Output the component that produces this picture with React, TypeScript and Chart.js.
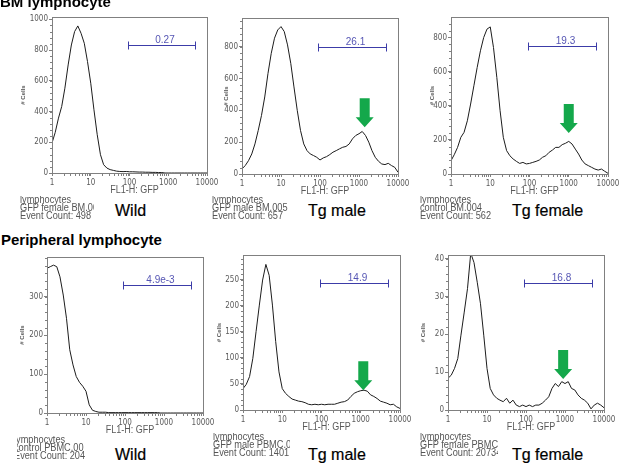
import React, { useEffect, useRef } from "react";
import { Chart, registerables } from "chart.js";

Chart.register(...registerables);

// FL1 channel positions shared by every histogram (12 steps per decade, 1 .. 10^4)
const fl1Channels = [
  1, 1.21, 1.47, 1.78, 2.15, 2.61, 3.16, 3.83, 4.64, 5.62, 6.81, 8.25,
  10, 12.1, 14.7, 17.8, 21.5, 26.1, 31.6, 38.3, 46.4, 56.2, 68.1, 82.5,
  100, 121, 147, 178, 215, 261, 316, 383, 464, 562, 681, 825,
  1000, 1210, 1470, 1780, 2150, 2610, 3160, 3830, 4640, 5620, 6810, 8250, 10000,
];
const fl1Decades = [1, 10, 100, 1000, 10000];
const fl1MinorSteps = [2, 3, 4, 5, 6, 7, 8, 9];

// # Cells per channel
const bmWildCounts = [
  195, 264, 357, 433, 552, 703, 833, 920, 957, 909,
  844, 725, 584, 411, 249, 119, 54, 32, 22, 17,
  12, 10, 9, 10, 8, 8, 7, 6, 6, 5,
  5, 4, 4, 3, 3, 0, 0, 0, 0, 0,
  0, 0, 0, 0, 0, 0, 0, 0, 0,
];
const bmTgMaleCounts = [
  32, 53, 84, 126, 189, 274, 368, 484, 632, 758,
  853, 905, 926, 895, 811, 695, 547, 400, 274, 189,
  147, 126, 116, 105, 88, 101, 109, 122, 137, 147,
  158, 168, 173, 189, 221, 242, 253, 267, 242, 200,
  147, 105, 80, 63, 59, 67, 53, 42, 11,
];
const bmTgFemaleCounts = [
  78, 113, 156, 215, 244, 312, 410, 517, 624, 722,
  800, 849, 862, 741, 566, 371, 215, 137, 107, 88,
  74, 62, 68, 59, 62, 68, 74, 82, 98, 107,
  127, 140, 156, 156, 172, 180, 191, 176, 146, 117,
  82, 59, 49, 39, 29, 23, 29, 16, 4,
];
const pbWildCounts = [
  373, 377, 381, 377, 351, 304, 244, 163, 124, 94,
  79, 69, 56, 21, 7, 4, 2, 2, 2, 1,
  1, 1, 1, 1, 1, 1, 1, 1, 1, 1,
  1, 1, 1, 1, 1, 0, 0, 0, 0, 0,
  0, 0, 0, 0, 0, 0, 0, 0, 0,
];
const pbTgMaleCounts = [
  41, 49, 64, 99, 150, 201, 249, 279, 258, 201,
  131, 73, 41, 32, 26, 21, 19, 17, 16, 14,
  11, 10, 11, 10, 11, 10, 11, 11, 11, 13,
  15, 16, 19, 26, 32, 35, 37, 38, 36, 29,
  26, 22, 17, 15, 13, 10, 11, 6, 3,
];
const pbTgFemaleCounts = [
  8.4, 9.2, 11, 13.6, 19.8, 25.9, 32.1, 41.5, 39, 33.8,
  28.1, 19.8, 11, 5.7, 4, 3.1, 2.6, 2.2, 3.1, 1.8,
  2.6, 1.3, 0.9, 1.3, 0.9, 1.3, 0.9, 1.3, 1.3, 1.8,
  2.6, 3.5, 5.7, 7, 6.2, 7.5, 7, 7.5, 5.7, 5.3,
  4, 3.1, 2.6, 1.8, 0.3, 1.3, 1.8, 1.3, 0.6,
];

// events piled up in the first channel (null = none)
const firstChannelPileUps = [950, 253, 595, null, null, 32.5];

// y-axis ranges and labelled ticks
const yAxisMax = [1015, 980, 920, 402, 297, 41];
const yTicksBmWild = [0, 200, 400, 600, 800, 1000];
const yTicksBmTg = [0, 200, 400, 600, 800];
const yTicksPbWild = [0, 100, 200, 300];
const yTicksPbMale = [0, 50, 100, 150, 200, 250];
const yTicksPbFemale = [0, 10, 20, 30, 40];
const yMajorTicks = [yTicksBmWild, yTicksBmTg, yTicksBmTg, yTicksPbWild, yTicksPbMale, yTicksPbFemale];
const yMinorStep = [40, 40, 40, 20, 10, 2];

// M1 marker gate (FL1 range) and the % positive it reports
const gateRange = [90, 5000];
const gatePercents = ["0.27", "26.1", "19.3", "4.9e-3", "14.9", "16.8"];
const gateLevel = [835, 800, 751, 330, 244, 33.7];

// GFP+ peak arrows: FL1 value and # Cells at the arrow tip
const peakArrows = [null, { x: 1400, y: 294 }, { x: 1000, y: 240 }, null, { x: 1160, y: 38 }, { x: 897, y: 8.2 }];

const rowTitles = ["BM lymphocyte", "Peripheral lymphocyte"];
const groupNames = ["Wild", "Tg male", "Tg female", "Wild", "Tg male", "Tg female"];
const fileNotes = [
  ["lymphocytes", "GFP female BM.00", "Event Count: 498"],
  ["lymphocytes", "GFP male BM.005", "Event Count: 657"],
  ["lymphocytes", "control BM.004", "Event Count: 562"],
  ["lymphocytes", "control PBMC.00", "Event Count: 204"],
  ["lymphocytes", "GFP male PBMC.00", "Event Count: 1401"],
  ["lymphocytes", "GFP female PBMC.0", "Event Count: 20734"],
];
const xAxisTitle = "FL1-H: GFP";
const yAxisTitle = "# Cells";

const countSeries = [bmWildCounts, bmTgMaleCounts, bmTgFemaleCounts, pbWildCounts, pbTgMaleCounts, pbTgFemaleCounts];

// ---- layout -------------------------------------------------------------
const AXIS_W = 40;
const AXIS_H = 24;
const PAD_TOP = 8;
const PAD_RIGHT = 14;

const plotBoxes = [
  { left: 52, top: 17, width: 155, height: 156, yTitleGap: 29 },
  { left: 242, top: 18, width: 156, height: 156, yTitleGap: 16 },
  { left: 451, top: 17, width: 157, height: 157, yTitleGap: 19 },
  { left: 47, top: 257, width: 156, height: 156, yTitleGap: 25 },
  { left: 243, top: 255, width: 157, height: 155, yTitleGap: 24 },
  { left: 448, top: 255, width: 156, height: 155, yTitleGap: 25 },
];
const notePlaces = [
  { left: 20, top: 196, clip: 74, clipLeft: 0 },
  { left: 212, top: 196, clip: 76, clipLeft: 0 },
  { left: 420, top: 196, clip: 76, clipLeft: 0 },
  { left: 14, top: 436, clip: 73, clipLeft: 2.5 },
  { left: 213, top: 433, clip: 77, clipLeft: 0 },
  { left: 420, top: 433, clip: 78, clipLeft: 0 },
];
const namePlaces = [
  { left: 115, top: 203 }, { left: 308, top: 203 }, { left: 512, top: 203 },
  { left: 115, top: 447 }, { left: 308, top: 447 }, { left: 512, top: 447 },
];

const SANS = "'Liberation Sans', Arial, Helvetica, sans-serif";
const NARROW = "'Liberation Sans Narrow', 'DejaVu Sans Condensed', 'Liberation Sans', sans-serif";
const CURVE = "#1c1c1c";
const FRAME = "#808080";
const TICK_TEXT = "#5a5a5a";
const GATE_BLUE = "#3c3ca8";
const GATE_TEXT = "#5656b4";
const ARROW_GREEN = "#14a84b";

// frame, minor ticks, M1 gate, arrow and axis titles
const histogramDecor = {
  id: "histogramDecor",
  afterDatasetsDraw(chart: any, _args: any, opts: any) {
    const { ctx, chartArea: a } = chart;
    const xs = chart.scales.x;
    const ys = chart.scales.y;
    ctx.save();

    ctx.strokeStyle = FRAME;
    ctx.lineWidth = 1;
    ctx.strokeRect(a.left + 0.5, a.top + 0.5, a.right - a.left, a.bottom - a.top);

    // minor ticks on both axes
    ctx.beginPath();
    fl1Decades.slice(0, -1).forEach((d) => {
      fl1MinorSteps.forEach((m) => {
        const px = Math.round(xs.getPixelForValue(d * m)) + 0.5;
        ctx.moveTo(px, a.bottom + 1);
        ctx.lineTo(px, a.bottom + 3);
      });
    });
    for (let v = opts.yMinor; v < opts.yMax; v += opts.yMinor) {
      const py = Math.round(ys.getPixelForValue(v)) + 0.5;
      ctx.moveTo(a.left, py);
      ctx.lineTo(a.left - 2, py);
    }
    ctx.stroke();

    // gate bar with end caps
    const g0 = Math.round(xs.getPixelForValue(opts.gateFrom)) + 0.5;
    const g1 = Math.round(xs.getPixelForValue(opts.gateTo)) + 0.5;
    const gy = Math.round(ys.getPixelForValue(opts.gateLevel)) + 0.5;
    ctx.strokeStyle = GATE_BLUE;
    ctx.beginPath();
    ctx.moveTo(g0, gy); ctx.lineTo(g1, gy);
    ctx.moveTo(g0, gy - 4); ctx.lineTo(g0, gy + 4);
    ctx.moveTo(g1, gy - 4); ctx.lineTo(g1, gy + 4);
    ctx.stroke();
    ctx.fillStyle = GATE_TEXT;
    ctx.font = `10px ${SANS}`;
    ctx.textAlign = "center";
    ctx.textBaseline = "alphabetic";
    ctx.fillText(opts.gateText, (g0 + g1) / 2 + 3, gy - 3);

    // arrow pointing at the GFP+ peak
    if (opts.arrow) {
      const ax = xs.getPixelForValue(opts.arrow.x);
      const tip = ys.getPixelForValue(opts.arrow.y);
      ctx.fillStyle = ARROW_GREEN;
      ctx.beginPath();
      ctx.moveTo(ax - 5, tip - 29);
      ctx.lineTo(ax + 5, tip - 29);
      ctx.lineTo(ax + 5, tip - 10);
      ctx.lineTo(ax + 9, tip - 10);
      ctx.lineTo(ax, tip);
      ctx.lineTo(ax - 9, tip - 10);
      ctx.lineTo(ax - 5, tip - 10);
      ctx.closePath();
      ctx.fill();
    }

    // axis titles
    ctx.fillStyle = TICK_TEXT;
    ctx.textBaseline = "middle";
    ctx.save();
    ctx.translate((a.left + a.right) / 2 + 5, a.bottom + 17);
    ctx.scale(0.9, 1);
    ctx.font = `10px ${SANS}`;
    ctx.fillText(opts.xTitle, 0, 0);
    ctx.restore();

    ctx.save();
    ctx.translate(a.left - opts.yTitleGap, (a.top + a.bottom) / 2);
    ctx.rotate(-Math.PI / 2);
    ctx.font = `bold 6px ${SANS}`;
    ctx.fillText(opts.yTitle, 0, 0);
    ctx.restore();

    ctx.restore();
  },
};

function HistogramPanel({ index }: { index: number }) {
  const ref = useRef<HTMLCanvasElement>(null);
  const box = plotBoxes[index];
  const width = box.width + AXIS_W + PAD_RIGHT;
  const height = box.height + PAD_TOP + AXIS_H;

  useEffect(() => {
    const counts = countSeries[index];
    const points: { x: number; y: number }[] = [];
    const pile = firstChannelPileUps[index];
    if (pile !== null) points.push({ x: fl1Channels[0], y: pile });
    fl1Channels.forEach((x, i) => points.push({ x, y: counts[i] }));

    const tickFont = { family: NARROW, size: 8 };
    const chart = new Chart(ref.current!, {
      type: "line",
      data: {
        datasets: [
          {
            data: points,
            borderColor: CURVE,
            borderWidth: 1,
            pointRadius: 0,
            tension: 0,
            fill: false,
          },
        ],
      },
      options: {
        animation: false,
        responsive: false,
        events: [],
        layout: { padding: { top: PAD_TOP, right: PAD_RIGHT, left: 0, bottom: 0 } },
        plugins: {
          legend: { display: false },
          tooltip: { enabled: false },
          histogramDecor: {
            gateFrom: gateRange[0],
            gateTo: gateRange[1],
            gateLevel: gateLevel[index],
            gateText: gatePercents[index],
            arrow: peakArrows[index],
            xTitle: xAxisTitle,
            yTitle: yAxisTitle,
            yTitleGap: box.yTitleGap,
            yMinor: yMinorStep[index],
            yMax: yAxisMax[index],
          },
        } as any,
        scales: {
          x: {
            type: "logarithmic",
            min: 1,
            max: 10000,
            afterBuildTicks: (s: any) => {
              s.ticks = fl1Decades.map((v) => ({ value: v }));
            },
            afterFit: (s: any) => { s.height = AXIS_H; },
            border: { display: false },
            grid: { drawOnChartArea: false, drawTicks: true, tickLength: 3, color: FRAME },
            ticks: {
              autoSkip: false,
              maxRotation: 0,
              minRotation: 0,
              padding: 2,
              color: TICK_TEXT,
              font: tickFont,
              callback: (v: any) => String(v),
            },
          },
          y: {
            type: "linear",
            min: 0,
            max: yAxisMax[index],
            afterBuildTicks: (s: any) => {
              s.ticks = yMajorTicks[index].map((v) => ({ value: v }));
            },
            afterFit: (s: any) => { s.width = AXIS_W; },
            border: { display: false },
            grid: { drawOnChartArea: false, drawTicks: true, tickLength: 3, color: FRAME },
            ticks: {
              autoSkip: false,
              padding: 1,
              color: TICK_TEXT,
              font: tickFont,
              callback: (v: any) => String(v),
            },
          },
        },
      } as any,
      plugins: [histogramDecor],
    });
    return () => chart.destroy();
  }, [index]);

  return (
    <canvas
      ref={ref}
      width={width}
      height={height}
      style={{ position: "absolute", left: box.left - AXIS_W, top: box.top - PAD_TOP, width, height }}
    />
  );
}

export default function App() {
  return (
    <div
      style={{
        position: "fixed",
        left: 0,
        top: 0,
        width: 620,
        height: 469,
        background: "#ffffff",
        overflow: "hidden",
        fontFamily: SANS,
      }}
    >
      {plotBoxes.map((_, i) => (
        <HistogramPanel key={i} index={i} />
      ))}

      <div style={{ position: "absolute", left: 0, top: -6, fontSize: 15, lineHeight: "15px", fontWeight: "bold", whiteSpace: "nowrap" }}>
        {rowTitles[0]}
      </div>
      <div style={{ position: "absolute", left: 1, top: 232, fontSize: 15, lineHeight: "15px", fontWeight: "bold", whiteSpace: "nowrap" }}>
        {rowTitles[1]}
      </div>

      {groupNames.map((name, i) => (
        <div
          key={"n" + i}
          style={{
            position: "absolute",
            left: namePlaces[i].left,
            top: namePlaces[i].top,
            fontSize: 16,
            lineHeight: "16px",
            whiteSpace: "nowrap",
            WebkitTextStroke: "0.2px #000",
          }}
        >
          {name}
        </div>
      ))}

      {fileNotes.map((lines, i) => {
        const p = notePlaces[i];
        const cl = p.clipLeft;
        return (
          <div
            key={"f" + i}
            style={{ position: "absolute", left: p.left + cl, top: p.top, width: p.clip - cl, height: 26, overflow: "hidden" }}
          >
            <div
              style={{
                position: "absolute",
                left: -cl,
                top: 0,
                fontSize: 10,
                lineHeight: "8px",
                color: "#555",
                whiteSpace: "nowrap",
                transform: "scaleX(0.92)",
                transformOrigin: "left top",
              }}
            >
              {lines.map((t, j) => (
                <div key={j}>{t}</div>
              ))}
            </div>
          </div>
        );
      })}
    </div>
  );
}
